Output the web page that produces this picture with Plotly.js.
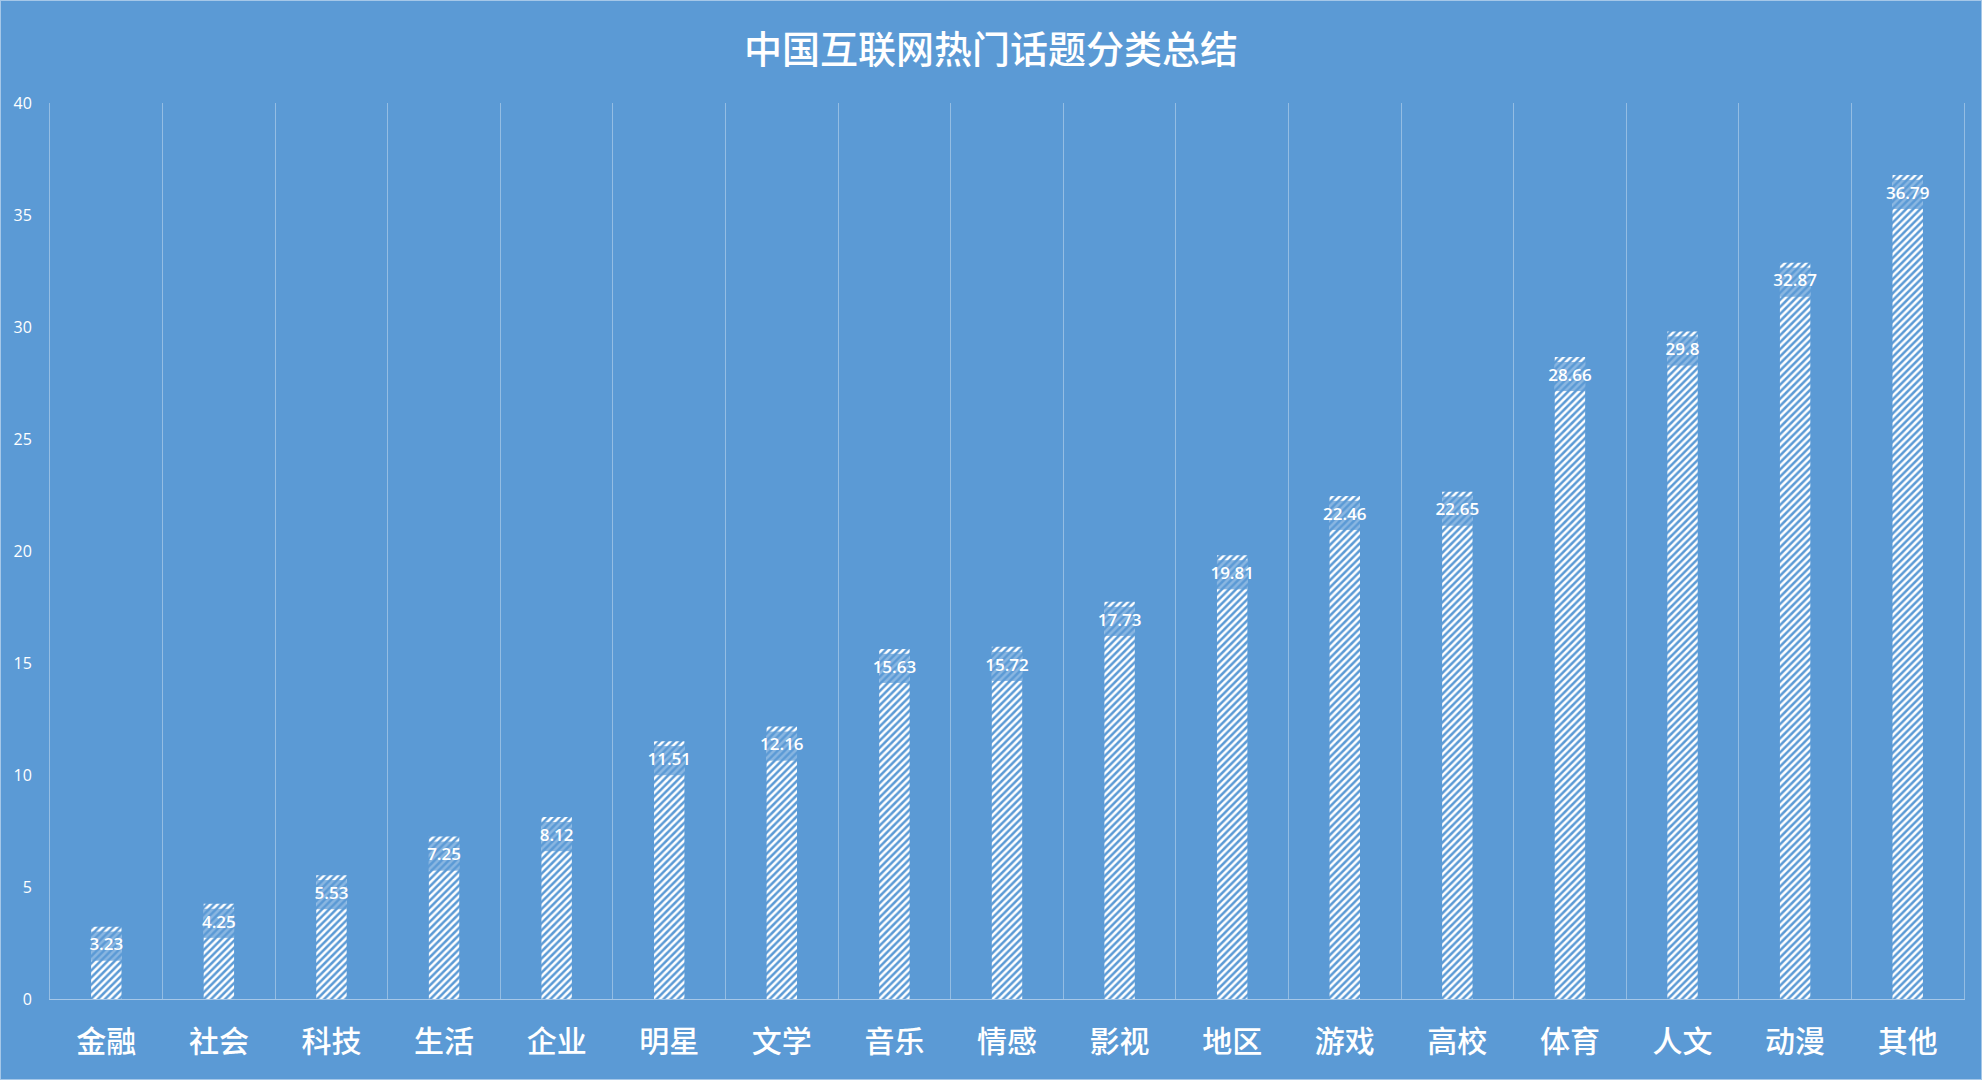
<!DOCTYPE html>
<html>
<head>
<meta charset="utf-8">
<script src="https://cdn.plot.ly/plotly-3.0.1.min.js"></script>
<style>
html,body{margin:0;padding:0;background:#5B9AD5;}
#wrap{width:1982px;height:1080px;box-sizing:border-box;border:1px solid rgba(255,255,255,0.45);}
#chart{width:1980px;height:1078px;}
</style>
</head>
<body>
<div id="wrap"><div id="chart"></div></div>
<script>
const categories = ["金融","社会","科技","生活","企业","明星","文学","音乐","情感","影视","地区","游戏","高校","体育","人文","动漫","其他"];
const values = [3.23,4.25,5.53,7.25,8.12,11.51,12.16,15.63,15.72,17.73,19.81,22.46,22.65,28.66,29.8,32.87,36.79];
const yTicks = [0,5,10,15,20,25,30,35,40];

const BG = "#5B9AD5";
const capDepth = 0.22, boxHeight = 1.3;

const barTrace = {
  type: "bar",
  x: categories,
  y: values,
  width: 0.27,
  marker: {
    color: BG,
    line: {width: 0},
    pattern: {shape: "/", fgcolor: "#FFFFFF", size: 5, solidity: 0.5, fillmode: "replace"}
  },
  hoverinfo: "skip"
};

const boxTrace = {
  type: "bar",
  x: categories,
  y: values.map(() => boxHeight),
  base: values.map(v => v - capDepth - boxHeight),
  width: 0.27,
  marker: {color: "rgba(91,154,213,0.72)", line: {width: 0}},
  hoverinfo: "skip"
};

const textTrace = {
  type: "scatter",
  mode: "text",
  x: categories,
  y: values.map(v => v - capDepth - boxHeight / 2),
  text: values.map(v => String(v)),
  textposition: "middle center",
  textfont: {family: "'Open Sans', Lato, sans-serif", size: 17, color: "#FFFFFF", weight: 600},
  hoverinfo: "skip",
  cliponaxis: false
};

const layout = {
  width: 1980,
  height: 1078,
  paper_bgcolor: BG,
  plot_bgcolor: BG,
  showlegend: false,
  barmode: "overlay",
  margin: {l: 49, r: 17, t: 102, b: 80},
  title: {
    text: "中国互联网热门话题分类总结",
    x: 0.5, xanchor: "center",
    y: 0.955, yanchor: "middle",
    font: {family: "'Noto Sans CJK SC', sans-serif", size: 38, color: "#FFFFFF", weight: 500}
  },
  xaxis: {
    type: "category",
    automargin: false,
    range: [-0.5, categories.length - 0.5],
    tickson: "boundaries",
    showgrid: true,
    gridcolor: "rgba(255,255,255,0.35)",
    gridwidth: 1,
    showline: true,
    linecolor: "rgba(255,255,255,0.45)",
    linewidth: 1,
    ticks: "",
    tickfont: {family: "'Noto Sans CJK SC', sans-serif", size: 30, color: "#FFFFFF", weight: 500},
    ticklabelstandoff: 16,
    zeroline: false
  },
  yaxis: {
    automargin: false,
    range: [0, 40],
    tickvals: yTicks,
    ticktext: yTicks.map(String),
    showgrid: false,
    zeroline: false,
    showline: true,
    mirror: true,
    linecolor: "rgba(255,255,255,0.35)",
    linewidth: 1,
    ticks: "",
    tickfont: {family: "'Open Sans', Lato, sans-serif", size: 16, color: "#FFFFFF"},
    ticklabelstandoff: 14
  }
};

Plotly.newPlot("chart", [barTrace, boxTrace, textTrace], layout, {displayModeBar: false, staticPlot: true});
</script>
</body>
</html>
